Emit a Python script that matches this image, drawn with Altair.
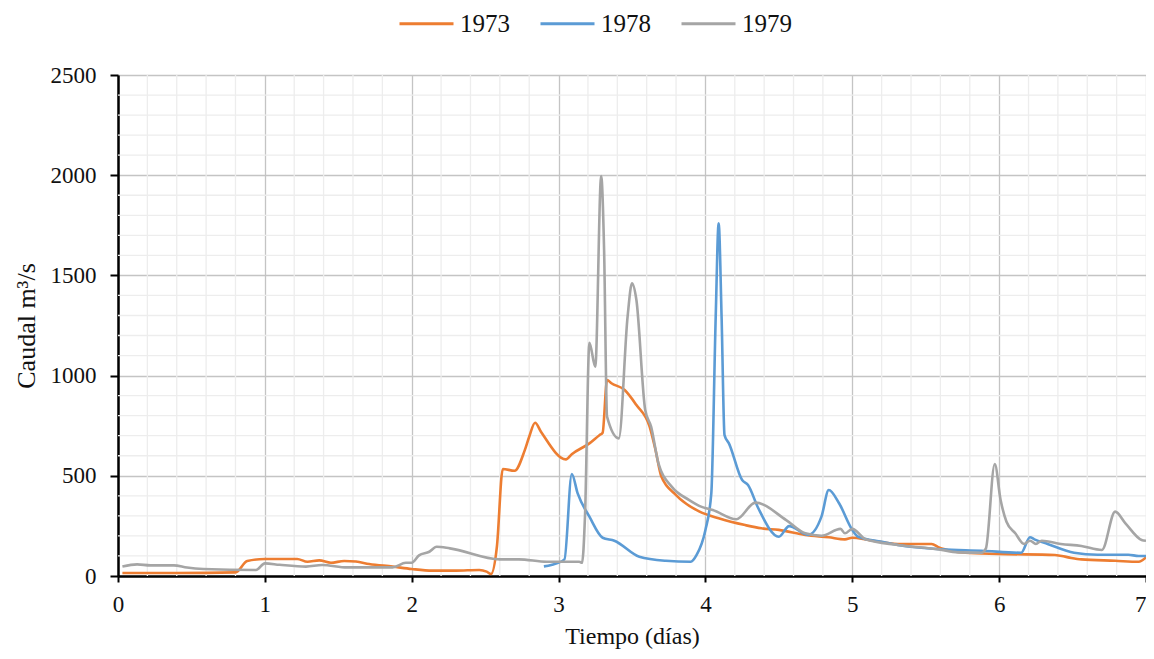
import altair as alt
import pandas as pd

series_names = ["1973", "1978", "1979"]
series_colors = ["#ED7D31", "#5B9BD5", "#A5A5A5"]

t1973 = [0.03, 0.40, 0.80, 0.88, 1.00, 1.22, 1.29, 1.37, 1.45, 1.54, 1.62, 1.71, 1.87, 2.00, 2.14,
         2.30, 2.46, 2.51, 2.54, 2.58, 2.62, 2.70, 2.77, 2.80, 2.84, 2.88, 3.05, 3.09, 3.21, 3.28,
         3.30, 3.33, 3.36, 3.45, 3.53, 3.62, 3.66, 3.70, 3.80, 3.96, 4.09, 4.27, 4.38, 4.50, 4.68,
         4.84, 4.95, 5.00, 5.11, 5.31, 5.54, 5.59, 5.63, 5.77, 5.99, 6.38, 6.47, 6.56, 6.79, 6.95, 7.00]
q1973 = [15, 15, 18, 75, 85, 85, 71, 78, 66, 75, 72, 60, 47, 35, 27,
         27, 30, 22, 10, 146, 534, 525, 628, 695, 765, 720, 582, 608, 662, 704,
         715, 978, 962, 928, 853, 745, 629, 496, 404, 321, 288, 254, 238, 230, 205,
         193, 183, 191, 180, 160, 160, 143, 133, 116, 110, 105, 93, 83, 76, 71, 93]

t1978 = [2.90, 2.95, 3.04, 3.09, 3.13, 3.21, 3.30, 3.38, 3.55, 3.73, 3.90, 3.94, 4.00, 4.04, 4.07,
         4.09, 4.11, 4.13, 4.16, 4.25, 4.29, 4.36, 4.50, 4.57, 4.70, 4.79, 4.84, 4.91, 5.00, 5.04,
         5.20, 5.31, 5.61, 5.88, 6.15, 6.21, 6.24, 6.33, 6.51, 6.67, 6.88, 6.95, 7.00]
q1978 = [48, 55, 83, 509, 412, 296, 191, 176, 96, 76, 71, 105, 230, 412, 1294,
         1760, 1294, 703, 662, 479, 454, 338, 196, 249, 205, 296, 429, 363, 230, 196,
         171, 155, 133, 126, 116, 193, 183, 160, 116, 106, 106, 100, 100]

t1979 = [0.03, 0.13, 0.22, 0.38, 0.47, 0.58, 0.94, 1.00, 1.10, 1.28, 1.39, 1.56, 1.87, 1.96, 2.00,
         2.05, 2.12, 2.17, 2.26, 2.60, 2.73, 2.92, 3.14, 3.16, 3.18, 3.21, 3.25, 3.29, 3.31, 3.33,
         3.41, 3.47, 3.50, 3.53, 3.59, 3.63, 3.68, 3.77, 3.89, 3.97, 4.05, 4.21, 4.34, 4.55, 4.68,
         4.79, 4.92, 4.95, 5.00, 5.09, 5.31, 5.59, 5.72, 5.88, 5.91, 5.97, 6.01, 6.05, 6.11, 6.17,
         6.21, 6.25, 6.29, 6.42, 6.56, 6.70, 6.79, 6.86, 6.97, 7.00]
q1979 = [47, 58, 53, 53, 42, 35, 30, 63, 56, 47, 55, 43, 43, 66, 66,
         103, 121, 146, 138, 83, 83, 71, 71, 66, 300, 1164, 1044, 1996, 1627, 795,
         687, 1294, 1460, 1377, 828, 745, 562, 446, 379, 346, 329, 283, 366, 279, 213,
         201, 235, 213, 235, 183, 155, 133, 118, 116, 138, 559, 379, 271, 213, 160,
         176, 160, 176, 160, 150, 130, 321, 263, 180, 176]

x_major = [0, 1, 2, 3, 4, 5, 6, 7]
y_major = [0, 500, 1000, 1500, 2000, 2500]
x_minor = [round(i * 0.2, 1) for i in range(1, 35) if i % 5 != 0]
y_minor = [i * 100 for i in range(1, 25) if i % 5 != 0]

rows = []
for name, ts, qs in [("1973", t1973, q1973), ("1978", t1978, q1978), ("1979", t1979, q1979)]:
    for t, q in zip(ts, qs):
        rows.append({"t": t, "q": q, "serie": name})
df = pd.DataFrame(rows)

FONT = "Liberation Serif"
xscale = alt.Scale(domain=[0, 7], nice=False, zero=False)
yscale = alt.Scale(domain=[0, 2500], nice=False)

xaxis = alt.Axis(values=x_major, title="Tiempo (días)", grid=True, gridColor="#C4C4C4",
                 gridWidth=1.3, tickSize=6, tickColor="black", tickWidth=2,
                 domainColor="black", domainWidth=2.5, labelPadding=11, labelFontSize=23,
                 labelFont=FONT, labelColor="#111", titleFont=FONT, titleFontSize=24,
                 titleFontWeight="normal", titleColor="#111", titlePadding=8, format="d",
                 labelFlush=False,
                 labelAlign={"condition": {"test": "datum.value >= 7", "value": "right"},
                             "value": "center"})
yaxis = alt.Axis(values=y_major, title="Caudal m³/s", grid=True, gridColor="#C4C4C4",
                 gridWidth=1.3, tickSize=8, tickColor="black", tickWidth=2,
                 domainColor="black", domainWidth=2.5, labelPadding=14, labelFontSize=23,
                 labelFont=FONT, labelColor="#111", titleFont=FONT, titleFontSize=26,
                 titleFontWeight="normal", titleColor="#111", titlePadding=11, format="d",
                 labelFlush=False)

vminor = alt.Chart(pd.DataFrame({"t": x_minor})).mark_rule(color="#EDEDED", strokeWidth=1.3).encode(
    x=alt.X("t:Q", scale=xscale, axis=xaxis)
)
hminor = alt.Chart(pd.DataFrame({"q": y_minor})).mark_rule(color="#EDEDED", strokeWidth=1.3).encode(
    y=alt.Y("q:Q", scale=yscale, axis=yaxis)
)

lines = alt.Chart(df).mark_line(interpolate="monotone", strokeWidth=2.6).encode(
    x=alt.X("t:Q", scale=xscale, axis=xaxis),
    y=alt.Y("q:Q", scale=yscale, axis=yaxis),
    color=alt.Color("serie:N", scale=alt.Scale(domain=series_names, range=series_colors),
                    legend=alt.Legend(title=None, orient="none", direction="horizontal",
                                      legendX=280, legendY=-80, symbolType="stroke",
                                      symbolSize=2916, symbolStrokeWidth=3, labelFont=FONT,
                                      labelFontSize=25, labelColor="#111", labelOffset=5,
                                      columnPadding=24, padding=0)),
    order=alt.value(0),
)

chart = alt.layer(vminor, hminor, lines).properties(
    width=1028, height=501,
    autosize=alt.AutoSizeParams(type="none"),
    padding={"left": 110, "top": 67, "right": 0, "bottom": 75},
).configure_view(stroke="black", strokeWidth=2.5).configure(background="white")

chart.save("out.html", embed_options={"renderer": "svg", "actions": False})
